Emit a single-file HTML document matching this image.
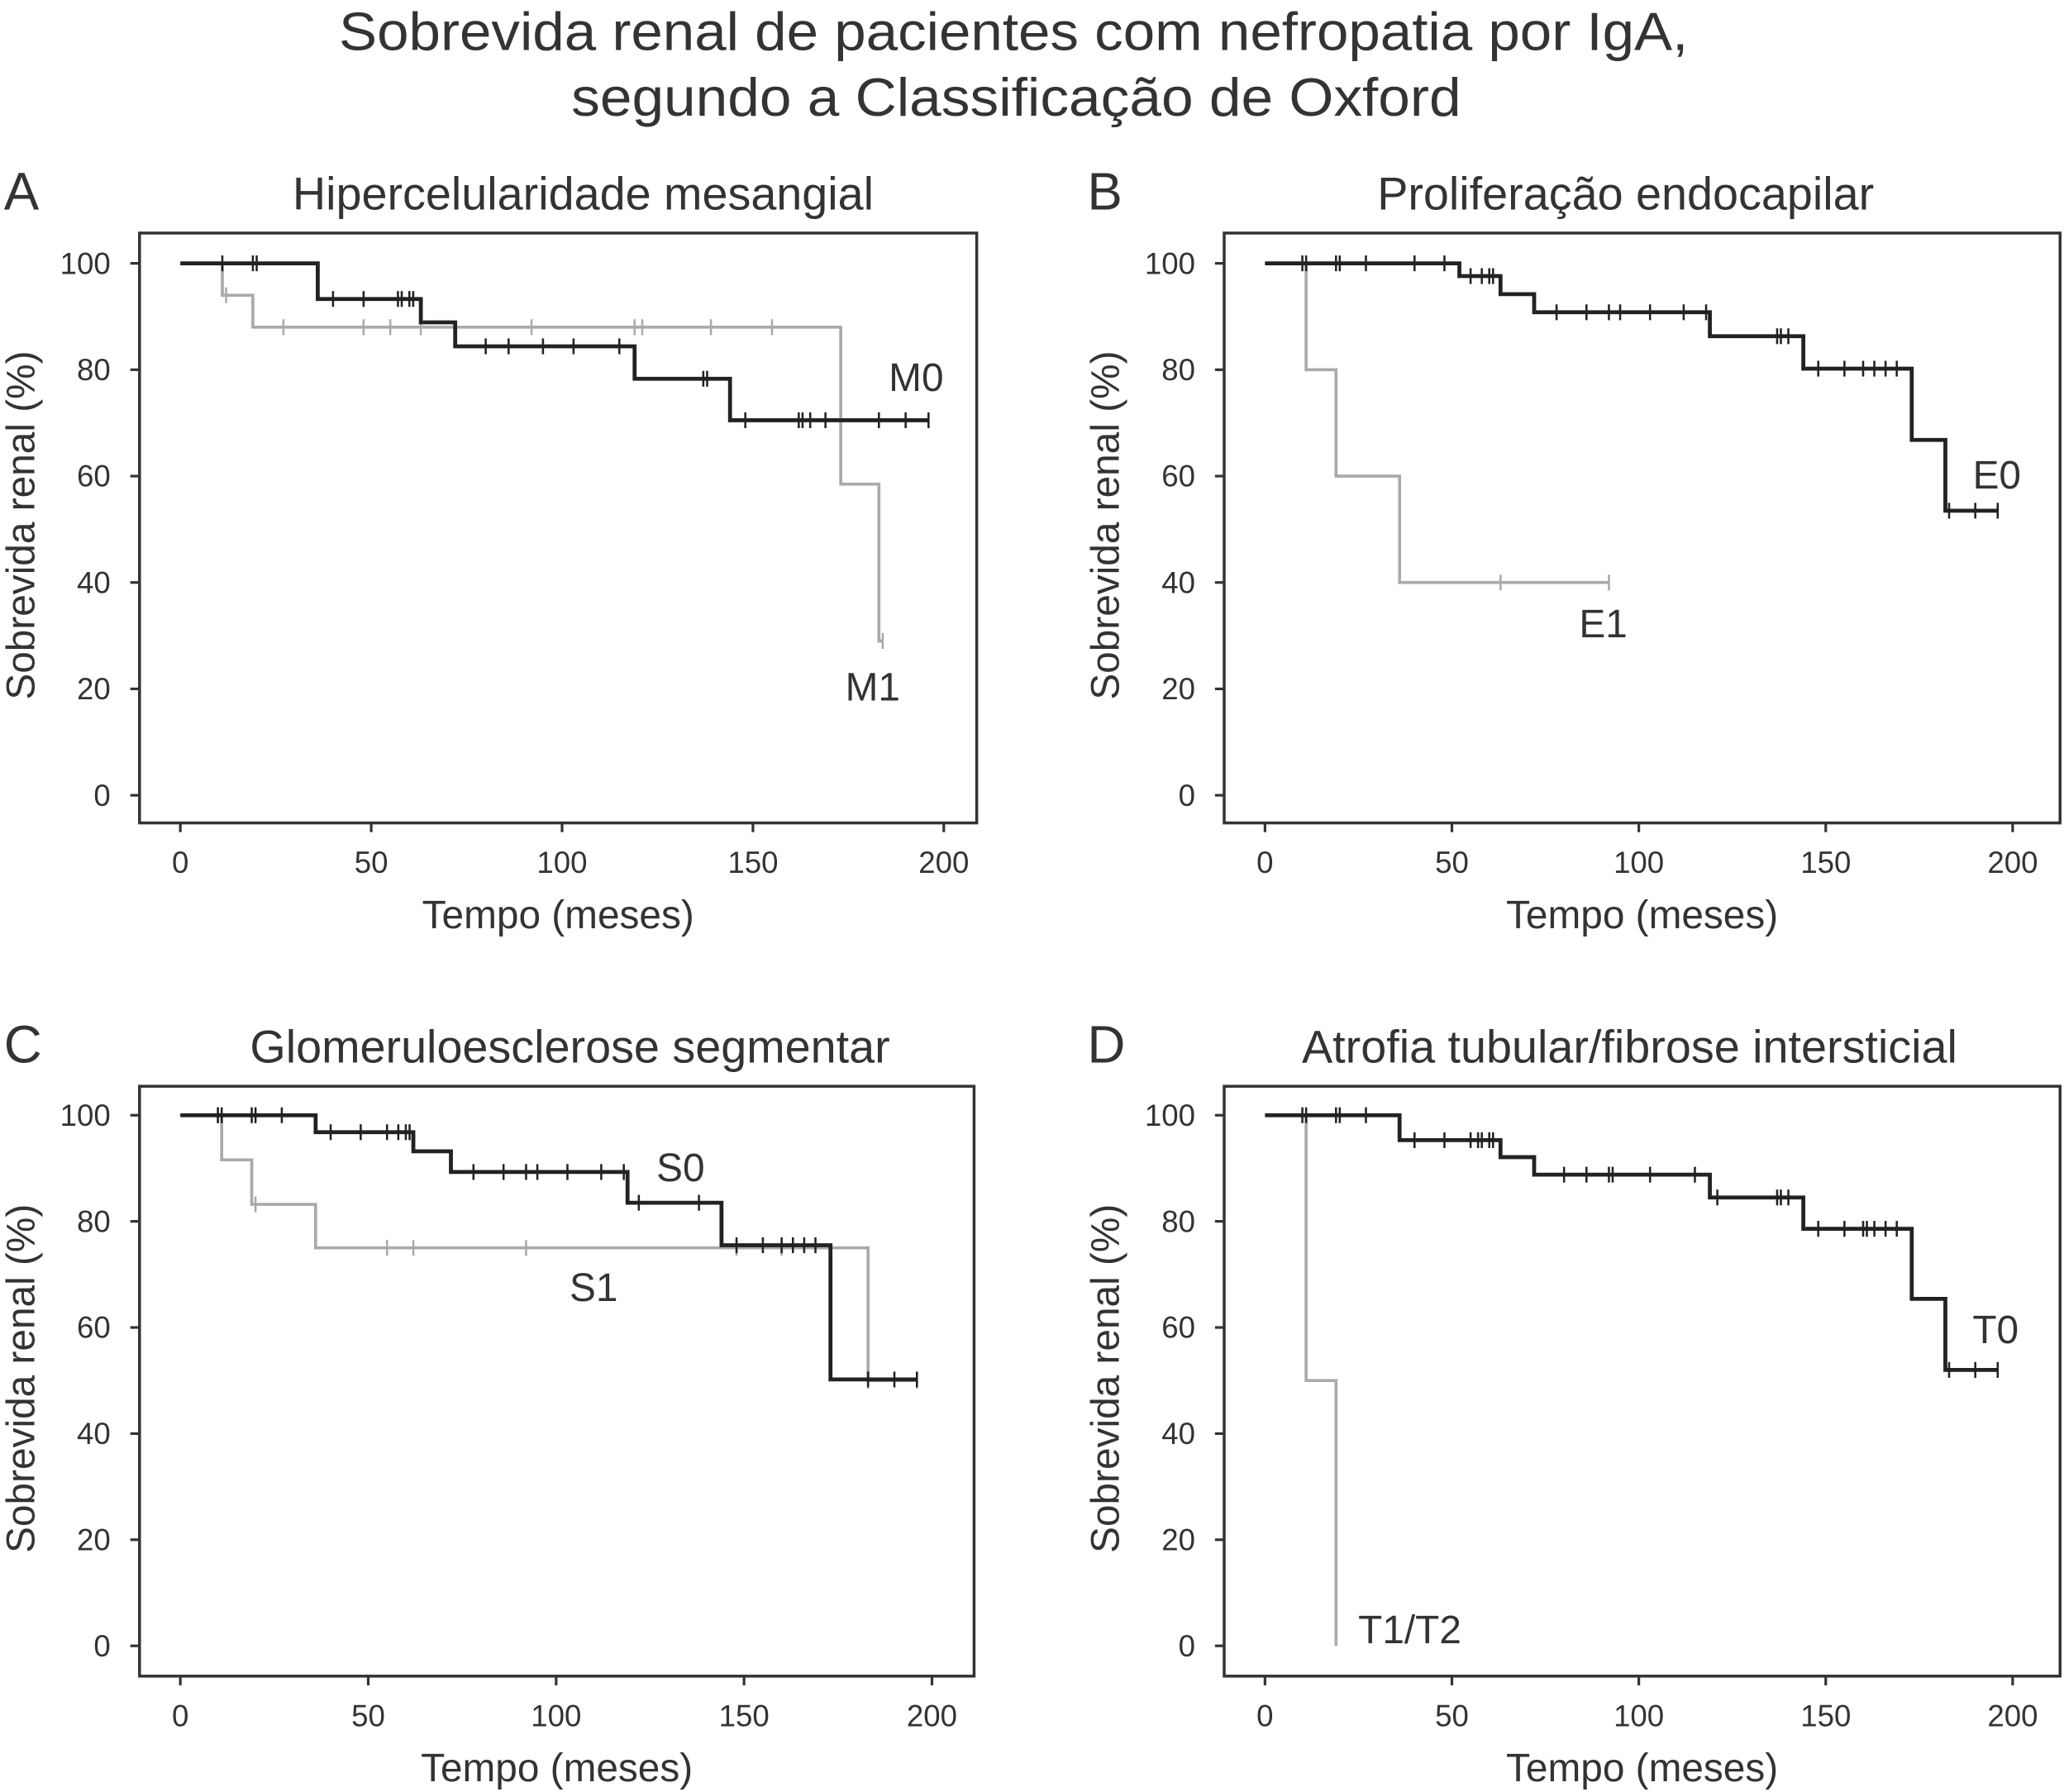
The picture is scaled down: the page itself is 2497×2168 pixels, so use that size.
<!DOCTYPE html>
<html><head><meta charset="utf-8"><style>
html,body{margin:0;padding:0;background:#fff}
svg{display:block}
text{font-family:"Liberation Sans",sans-serif;fill:#333}
</style></head><body>
<svg id="fig" width="2497" height="2168" viewBox="0 0 1568 1361" preserveAspectRatio="none" xmlns="http://www.w3.org/2000/svg">
<text x="770" y="38" font-size="41" text-anchor="middle" textLength="1025" lengthAdjust="spacingAndGlyphs">Sobrevida renal de pacientes com nefropatia por IgA,</text>
<text x="772" y="88" font-size="41" text-anchor="middle" textLength="676" lengthAdjust="spacingAndGlyphs">segundo a Classificação de Oxford</text>
</svg>
<script>
const panelLetters=["A","B","C","D"];
const panelTitles=["Hipercelularidade mesangial","Proliferação endocapilar","Glomeruloesclerose segmentar","Atrofia tubular/fibrose intersticial"];
const xTicks=[0,50,100,150,200];
const yTicks=[0,20,40,60,80,100];
const A_M0_t=[0,36,63,72,119,144,196];
const A_M0_s=[100,93.3,88.9,84.4,78.3,70.5];
const A_M0_c=[11,19,20,40,48,57,58,60,61,80,86,95,103,115,137,138,148,162,163,165,169,183,190,196];
const A_M1_t=[0,11,19,173,183,184];
const A_M1_s=[100,94,88,58.5,29];
const A_M1_c=[12,27,48,55,63,92,119,121,139,155,184];
const B_E0_t=[0,52,63,72,119,144,173,182,196];
const B_E0_s=[100,97.6,94.2,90.8,86.3,80.2,66.8,53.5];
const B_E0_c=[10,11,19,20,27,40,48,55,58,60,61,78,86,92,95,103,112,118,137,138,140,148,155,160,163,166,169,183,190,196];
const B_E1_t=[0,11,19,36,92];
const B_E1_s=[100,80,60,40];
const B_E1_c=[63,92];
const C_S0_t=[0,36,62,72,119,144,173,196];
const C_S0_s=[100,96.8,93.2,89.3,83.5,75.5,50.2];
const C_S0_c=[10,11,19,20,27,40,48,55,58,60,61,78,86,92,95,103,112,118,122,138,148,155,160,163,166,169,183,190,196];
const C_S1_t=[0,11,19,36,183,196];
const C_S1_s=[100,91.6,83.2,75,50];
const C_S1_c=[10,20,55,62,92,148,160,183,196];
const D_T0_t=[0,36,63,72,119,144,173,182,196];
const D_T0_s=[100,95.3,92.1,88.8,84.5,78.6,65.4,52];
const D_T0_c=[10,11,19,20,27,40,48,55,57,58,60,61,80,86,92,93,103,115,121,137,138,140,148,155,160,161,163,166,169,183,190,196];
const D_T1_t=[0,11,19,19];
const D_T1_s=[100,50,0];
const D_T1_c=[];
const panelSeries=[
 [{t:A_M1_t,s:A_M1_s,c:A_M1_c,g:1,n:"m1"},{t:A_M0_t,s:A_M0_s,c:A_M0_c,g:0,n:"m0"}],
 [{t:B_E1_t,s:B_E1_s,c:B_E1_c,g:1,n:"e1"},{t:B_E0_t,s:B_E0_s,c:B_E0_c,g:0,n:"e0"}],
 [{t:C_S1_t,s:C_S1_s,c:C_S1_c,g:1,n:"s1"},{t:C_S0_t,s:C_S0_s,c:C_S0_c,g:0,n:"s0"}],
 [{t:D_T1_t,s:D_T1_s,c:D_T1_c,g:1,n:"t1-t2"},{t:D_T0_t,s:D_T0_s,c:D_T0_c,g:0,n:"t0"}]
];
const seriesLabels=[[["M1",663,532],["M0",696,297]],[["E1",1218,484],["E0",1517,371]],[["S1",451,988],["S0",517,897]],[["T1/T2",1071,1248],["T0",1516,1020]]];
const layouts=[
 {bx:106,by:177,bw:636,bh:448,x0:137,x1:717,y100:200,y0:604,lx:3,tx:443},
 {bx:930,by:177,bw:635,bh:448,x0:961,x1:1529,y100:200,y0:604,lx:826,tx:1235},
 {bx:106,by:825,bw:634,bh:448,x0:137,x1:708,y100:847,y0:1250,lx:3,tx:433},
 {bx:930,by:825,bw:635,bh:448,x0:961,x1:1529,y100:847,y0:1250,lx:826,tx:1238}
];
const NS="http://www.w3.org/2000/svg";
const svg=document.getElementById("fig");
function mk(tag,attrs,parent){const e=document.createElementNS(NS,tag);for(const k in attrs)e.setAttribute(k,attrs[k]);(parent||svg).appendChild(e);return e;}
layouts.forEach((L,i)=>{
 const g=mk("g",{});
 
 
 const xs=v=>L.x0+(L.x1-L.x0)*v/200;
 const ys=v=>L.y0+(L.y100-L.y0)*v/100;
 const lt=mk("text",{x:L.lx,y:L.by-18,"font-size":40},g);lt.textContent=panelLetters[i];
 
 
 const tt=mk("text",{x:L.tx,y:L.by-18,"font-size":35,"text-anchor":"middle"},g);tt.textContent=panelTitles[i];
 
 
 const box=mk("rect",{x:L.bx,y:L.by,width:L.bw,height:L.bh,fill:"none",stroke:"#333","stroke-width":2.2},g);
 
 
 yTicks.forEach(v=>{
  const y=ys(v);
  const tk=mk("line",{x1:L.bx-7,x2:L.bx,y1:y,y2:y,stroke:"#333","stroke-width":2},g);
  
  
  const tl=mk("text",{x:L.bx-22,y:y+8,"font-size":23,"text-anchor":"end"},g);tl.textContent=v;
  
  
 });
 xTicks.forEach(v=>{
  const x=xs(v);
  const tk=mk("line",{x1:x,x2:x,y1:L.by+L.bh,y2:L.by+L.bh+7,stroke:"#333","stroke-width":2},g);
  
  
  const tl=mk("text",{x:x,y:L.by+L.bh+38,"font-size":23,"text-anchor":"middle"},g);tl.textContent=v;
  
  
 });
 const xa=mk("text",{x:(L.bx+L.bw/2),y:L.by+L.bh+80,"font-size":30,"text-anchor":"middle"},g);xa.textContent="Tempo (meses)";
 
 
 const cy=(L.by+L.bh/2-2);const cx=L.bx-80;
 const ya=mk("text",{x:cx,y:cy,"font-size":30,"text-anchor":"middle",transform:`rotate(-90 ${cx} ${cy})`},g);ya.textContent="Sobrevida renal (%)";
 
 
 panelSeries[i].forEach(S=>{
  const col=S.g?"#aaa":"#222";
  let d=`M${xs(S.t[0])},${ys(S.s[0])}`;
  for(let k=0;k<S.s.length;k++){
   d+=` L${xs(S.t[k+1])},${ys(S.s[k])}`;
   if(k+1<S.s.length) d+=` L${xs(S.t[k+1])},${ys(S.s[k+1])}`;
  }
  const p=mk("path",{d:d,fill:"none",stroke:col,"stroke-width":S.g?2.3:3},g);
  
  
  S.c.forEach(ct=>{
   let k=0;while(k<S.s.length-1&&ct>=S.t[k+1])k++;
   const x=xs(ct),y=ys(S.s[k]);
   const m=mk("line",{x1:x,x2:x,y1:y-6,y2:y+6,stroke:col,"stroke-width":1.6},g);
   
   
  });
 });
 seriesLabels[i].forEach(sl=>{
  const t=mk("text",{x:sl[1],y:sl[2],"font-size":30,"text-anchor":"middle"},g);t.textContent=sl[0];
  
  
 });
});
</script>
</body></html>
